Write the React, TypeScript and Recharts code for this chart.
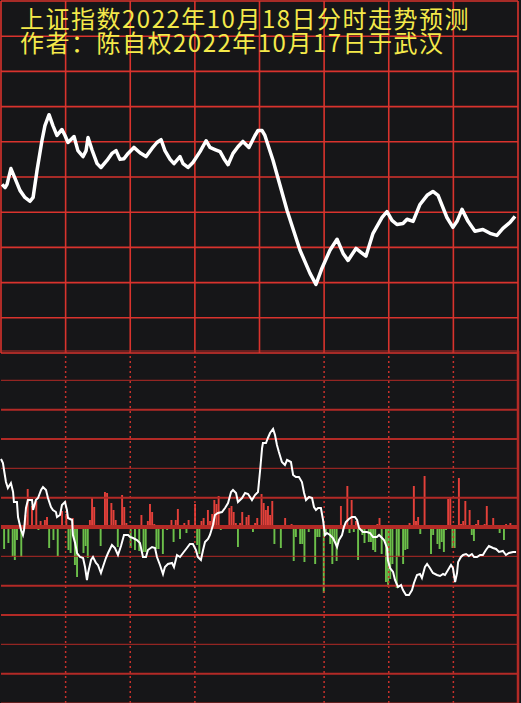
import React from "react";
import { Bar, CartesianGrid, Cell, ComposedChart, Line, ReferenceLine, XAxis, YAxis } from "recharts";

// 分时：分钟 0-240
const timeTicks = [0, 30, 60, 90, 120, 150, 180, 210, 240];
const priceTicks = [3020, 3030, 3040, 3050, 3060, 3070, 3080, 3090, 3100, 3110, 3120];
const flowTicks = [-176, -146.7, -117.3, -88, -58.7, -29.3, 0, 29.3, 58.7, 88, 117.3, 146.7, 176];

// 上图：预测走势
const topMinutes = [
  0.5, 1.9, 2.8, 4.6, 6.5, 8.8, 11.1, 13.5, 14.9, 16.7,
  19.0, 20.4, 22.3, 24.1, 26.0, 28.3, 29.7, 31.1, 33.9, 35.7,
  38.1, 39.5, 40.4, 42.2, 44.6, 46.4, 49.2, 51.5, 53.4, 55.2,
  57.1, 59.0, 61.7, 64.5, 67.3, 70.1, 72.4, 74.3, 76.1, 78.5,
  80.3, 83.1, 84.5, 86.8, 89.1, 92.4, 95.2, 97.0, 99.3, 101.7,
  103.5, 105.4, 107.7, 110.0, 112.3, 115.1, 117.9, 119.3, 121.2, 122.5,
  126.3, 132.8, 138.8, 143.4, 146.2, 149.0, 152.7, 156.0, 158.8, 161.1,
  164.8, 167.1, 169.4, 172.7, 176.9, 179.2, 181.5, 183.8, 186.6, 188.5,
  191.3, 194.5, 197.8, 200.5, 202.9, 207.0, 209.8, 211.7, 214.0, 216.8,
  220.0, 223.7, 227.0, 230.2, 233.0, 236.3, 238.6,
];
const topPrices = [
  3067.9, 3067.0, 3067.9, 3072.4, 3069.6, 3066.2, 3064.2, 3063.1, 3064.2, 3071.8,
  3080.3, 3084.6, 3087.7, 3084.6, 3081.8, 3083.5, 3081.8, 3079.8, 3081.5, 3077.5,
  3075.8, 3077.5, 3081.2, 3077.8, 3073.8, 3072.7, 3074.7, 3076.7, 3077.5, 3075.0,
  3075.2, 3076.7, 3078.4, 3076.9, 3075.8, 3078.1, 3079.8, 3080.6, 3077.5, 3075.0,
  3073.8, 3075.8, 3073.8, 3072.7, 3074.1, 3077.2, 3080.3, 3078.4, 3077.8, 3077.2,
  3075.2, 3073.5, 3076.7, 3078.6, 3080.1, 3078.4, 3081.8, 3083.2, 3083.2, 3081.8,
  3074.7, 3060.5, 3049.2, 3042.7, 3039.5, 3044.1, 3049.2, 3052.3, 3048.3, 3046.3,
  3049.7, 3048.6, 3047.5, 3054.0, 3058.5, 3060.2, 3057.7, 3056.5, 3056.8, 3058.0,
  3057.4, 3062.2, 3064.8, 3065.9, 3064.8, 3058.5, 3055.7, 3057.4, 3060.8, 3057.4,
  3054.6, 3055.1, 3054.0, 3053.4, 3055.4, 3057.1, 3058.8,
];

// 下图：白线
const netMinutes = [
  0, 0.9, 1.4, 2.3, 3.2, 4.6, 5.6, 6.0, 7.4, 7.9,
  9.3, 10.2, 10.7, 11.6, 12.5, 14.4, 14.9, 16.2, 17.2, 18.6,
  19.5, 20.9, 21.8, 23.2, 24.1, 25.5, 26.0, 27.4, 28.3, 29.7,
  30.6, 31.1, 33.0, 33.4, 34.4, 35.3, 36.7, 38.1, 39.0, 39.9,
  40.4, 41.8, 42.7, 44.1, 45.0, 46.4, 47.3, 48.7, 49.7, 51.5,
  52.9, 54.3, 55.7, 57.1, 59.0, 59.9, 61.3, 63.1, 64.5, 65.9,
  67.3, 68.2, 70.1, 71.5, 72.4, 73.8, 75.2, 76.1, 77.5, 79.4,
  80.3, 81.7, 83.1, 84.5, 86.3, 87.7, 89.1, 90.5, 91.4, 92.8,
  93.8, 94.7, 96.1, 97.0, 98.4, 99.3, 100.7, 102.6, 104.0, 105.4,
  106.8, 107.7, 109.1, 110.0, 111.9, 113.3, 114.7, 116.5, 117.9, 119.3,
  120.3, 121.2, 121.6, 123.0, 123.9, 124.9, 126.3, 127.2, 128.1, 129.0,
  130.4, 131.8, 132.8, 134.6, 135.6, 136.9, 138.3, 139.7, 140.7, 141.6,
  143.0, 144.4, 145.3, 146.2, 147.2, 148.5, 149.5, 150.4, 151.3, 152.7,
  154.1, 155.0, 156.0, 156.9, 158.3, 159.2, 160.1, 161.5, 162.9, 164.3,
  165.3, 166.2, 168.0, 169.9, 171.3, 172.7, 174.5, 175.5, 176.9, 177.8,
  179.2, 179.6, 180.6, 182.0, 182.9, 184.3, 185.7, 186.6, 188.0, 189.4,
  190.8, 191.7, 193.1, 194.5, 195.4, 196.8, 197.8, 199.1, 200.5, 202.4,
  203.8, 205.2, 206.1, 207.5, 208.9, 209.8, 210.8, 211.7, 212.2, 213.5,
  214.5, 215.9, 217.2, 218.6, 219.6, 221.0, 222.4, 223.7, 225.1, 226.5,
  228.4, 229.8, 231.2, 233.0, 234.4, 235.8, 237.7, 239.1,
];
const netValues = [
  68, 64, 57, 45, 39, 44, 35, 25, 25, 10,
  -3, -8, -3, 19, 27, 27, 17, 27, 29, 37,
  40, 37, 29, 20, 17, 15, 10, 12, 22, 25,
  17, 9, 7, -8, -16, -26, -30, -31, -40, -53,
  -46, -33, -30, -36, -38, -46, -40, -31, -26, -18,
  -21, -28, -19, -8, -8, -10, -11, -13, -16, -30,
  -30, -23, -20, -21, -30, -38, -47, -40, -37, -36,
  -40, -28, -30, -26, -21, -17, -17, -23, -30, -33,
  -23, -15, -12, -8, 2, 12, 14, 15, 19, 24,
  35, 37, 34, 25, 29, 34, 33, 27, 32, 35,
  57, 79, 84, 84, 89, 94, 98, 92, 82, 75,
  65, 62, 67, 65, 52, 50, 50, 45, 34, 27,
  30, 29, 20, 17, 19, 19, 7, -8, -6, -8,
  -11, -15, -20, -13, -8, 0, 5, 8, 10, 10,
  7, -1, -5, -5, -6, -10, -10, -8, -11, -13,
  -21, -33, -41, -45, -53, -60, -58, -63, -68, -68,
  -63, -56, -48, -47, -51, -40, -37, -41, -46, -48,
  -49, -47, -48, -43, -38, -41, -55, -46, -35, -30,
  -28, -27, -29, -27, -30, -30, -28, -28, -23, -19,
  -21, -22, -25, -24, -28, -26, -25, -25,
];

// 下图：红绿柱（按分钟）
const flowMinutes = [
  1, 3, 5, 6, 7, 9, 11, 12, 13, 14, 15, 16, 17, 18, 20, 21, 22, 24, 26, 28,
  30, 31, 32, 33, 34, 35, 38, 39, 40, 41, 42, 43, 46, 48, 49, 51, 52, 53, 54, 56,
  57, 58, 60, 62, 64, 65, 66, 67, 68, 69, 70, 71, 72, 73, 75, 77, 79, 80, 81, 82,
  83, 85, 86, 87, 90, 91, 92, 93, 94, 96, 97, 98, 99, 100, 101, 102, 106, 107, 108, 109,
  110, 111, 112, 114, 115, 117, 118, 119, 121, 122, 123, 124, 125, 126, 127, 128, 130, 132, 135, 136,
  137, 139, 140, 141, 143, 144, 146, 147, 148, 150, 151, 153, 154, 155, 156, 158, 159, 161, 162, 163,
  164, 165, 166, 168, 169, 171, 172, 173, 174, 175, 176, 177, 179, 180, 181, 182, 184, 185, 187, 188,
  189, 190, 192, 193, 194, 195, 197, 198, 200, 201, 203, 204, 205, 206, 207, 208, 209, 210, 211, 213,
  214, 215, 216, 218, 219, 220, 221, 222, 224, 225, 226, 227, 229, 230, 232, 234, 235, 237, 238,
];
const flowValues = [
  -22, -16, -29, -33, -13, -30, 12, 38, -2, 21, -2, 26, -3, 6, 7, 10, -21, -13, -29, 16,
  13, -23, -26, 9, -38, -50, -26, -19, -31, 7, 29, 20, -19, 35, 34, 24, 17, 7, -20, 32,
  20, 4, -21, -23, -24, 12, -25, -25, 6, 23, 15, 3, -22, -22, -27, -3, 7, -15, 7, 18,
  -12, 4, -6, 7, 23, -18, -27, 6, 9, 17, 6, 13, 27, 23, 31, -3, 19, 21, 15, 4,
  -20, 4, 15, 10, 12, -5, 4, 9, 33, 24, 17, 21, 12, 26, -17, 1, -21, 9, 3, -34,
  -10, -17, -17, -35, -5, -2, -37, -10, -10, -66, -5, -17, -37, -13, -34, 21, -5, 41, -6, 27,
  -5, 6, -33, -8, -16, -15, -15, -23, -25, 3, 9, -27, -55, -60, -52, -37, -61, -30, -37, -23,
  -22, 4, 41, 6, 10, -7, 51, 1, -27, -8, -17, -22, -15, -25, -3, 28, 29, -21, -21, 49,
  3, 6, 26, 17, -8, -14, 3, 7, -1, 3, 21, -1, 9, -1, -6, -13, 3, 4, -1,
];

const topData = topMinutes.map((t, i) => ({ t, p: topPrices[i] }));
const netData = netMinutes.map((t, i) => ({ t, n: netValues[i] }));
const flowByMinute = new Map(flowMinutes.map((t, i) => [t, flowValues[i]]));
const flowData = Array.from({ length: 241 }, (_, m) => ({ m, v: flowByMinute.has(m) ? flowByMinute.get(m) : null }));

const levelWidths = [1, 2, 1, 2, 2, 1, 4, 2, 1, 2, 2, 1, 1];
const dottedTimes = [30, 60, 90, 150, 180, 210];

const titleStyle: React.CSSProperties = {
  position: "absolute",
  left: 20,
  color: "#f4e94a",
  fontFamily: "'Noto Sans CJK SC', sans-serif",
  fontSize: 24,
  lineHeight: "24px",
  height: 24,
  letterSpacing: 1.5,
  whiteSpace: "nowrap",
};

export default function App() {
  return (
    <div style={{ position: "relative", width: 521, height: 703, background: "#161618", overflow: "hidden" }}>
      <style>{"body{margin:0;background:#161618}"}</style>

      <div style={{ position: "absolute", left: 0, top: 0 }}>
        <ComposedChart width={521} height={356} data={topData} margin={{ top: 1, right: 3, bottom: 3, left: 1 }}>
          <CartesianGrid stroke="#d9332d" strokeWidth={1.6} />
          <XAxis type="number" dataKey="t" domain={[0, 240]} ticks={timeTicks} hide />
          <YAxis domain={[3020, 3120]} ticks={priceTicks} hide />
          <Line
            type="linear"
            dataKey="p"
            stroke="#ffffff"
            strokeWidth={3.5}
            strokeLinejoin="round"
            dot={false}
            isAnimationActive={false}
          />
        </ComposedChart>
      </div>

      <div style={{ position: "absolute", left: 0, top: 340 }}>
        <ComposedChart
          width={521}
          height={363}
          data={flowData}
          barCategoryGap={0}
          margin={{ top: 11, right: 3, bottom: 0, left: 1 }}
        >
          <XAxis xAxisId="t" type="number" dataKey="t" domain={[0, 240]} ticks={timeTicks} hide />
          <XAxis xAxisId="m" type="category" dataKey="m" hide />
          <YAxis domain={[-176, 176]} ticks={flowTicks} hide />
          {dottedTimes.map((t) => (
            <ReferenceLine key={"x" + t} xAxisId="t" x={t} stroke="#c9302b" strokeWidth={1.5} strokeDasharray="2 3" />
          ))}
          {flowTicks.map((y, i) => (
            <ReferenceLine key={"y" + i} xAxisId="t" y={y} stroke="#b32a26" strokeWidth={levelWidths[i]} />
          ))}
          <Bar xAxisId="m" dataKey="v" barSize={2.2} isAnimationActive={false}>
            {flowData.map((d) => (
              <Cell key={d.m} fill={(d.v ?? 0) >= 0 ? "#e3403a" : "#6cbf4a"} />
            ))}
          </Bar>
          <ReferenceLine xAxisId="t" y={0} stroke="#b32a26" strokeWidth={4} />
          <ReferenceLine xAxisId="t" x={240} stroke="#b32a26" strokeWidth={2.5} />
          <Line
            xAxisId="t"
            data={netData}
            type="linear"
            dataKey="n"
            stroke="#ffffff"
            strokeWidth={2}
            dot={false}
            isAnimationActive={false}
          />
        </ComposedChart>
      </div>

      <div style={{ ...titleStyle, top: 6 }}>上证指数2022年10月18日分时走势预测</div>
      <div style={{ ...titleStyle, top: 30 }}>作者：陈自权2022年10月17日于武汉</div>
    </div>
  );
}
